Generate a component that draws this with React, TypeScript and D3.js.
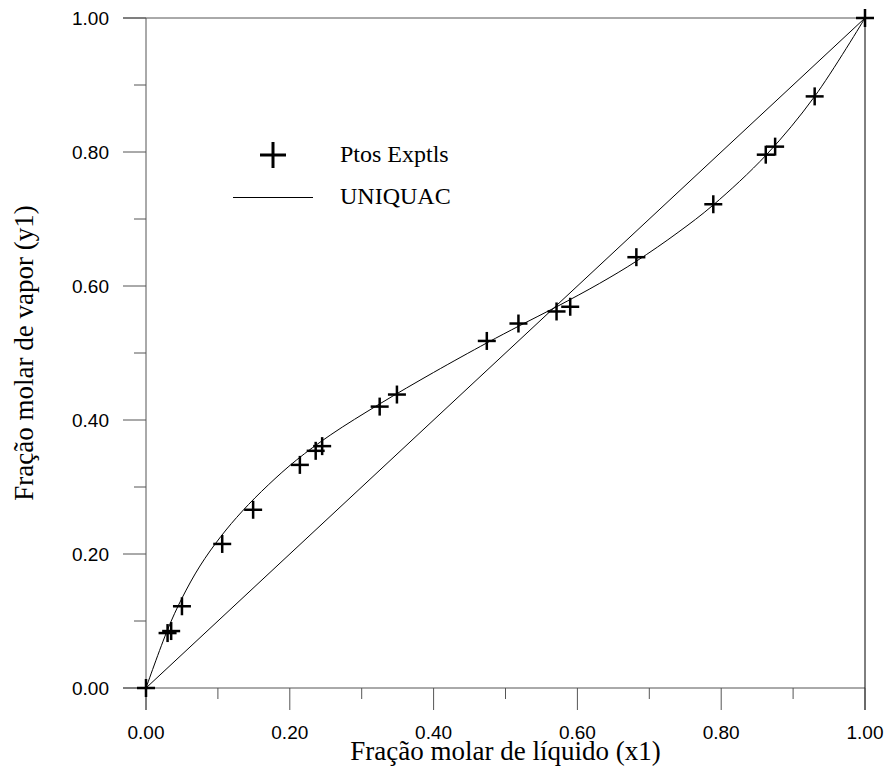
import React from 'react';
import * as d3 from 'd3';

// experimental points (x1, y1)
const expX = [0, 0.030, 0.035, 0.050, 0.106, 0.149, 0.214, 0.236, 0.245, 0.325, 0.349, 0.474, 0.518, 0.571, 0.590, 0.682, 0.789, 0.862, 0.875, 0.930, 1.0];
const expY = [0, 0.082, 0.085, 0.122, 0.215, 0.266, 0.333, 0.354, 0.361, 0.420, 0.438, 0.518, 0.544, 0.562, 0.569, 0.643, 0.722, 0.796, 0.808, 0.883, 1.0];

// UNIQUAC curve
const uniX = [0, 0.030, 0.050, 0.075, 0.104, 0.134, 0.170, 0.209, 0.257, 0.325, 0.400, 0.474, 0.520, 0.571, 0.631, 0.682, 0.740, 0.789, 0.863, 0.930, 1.0];
const uniY = [0, 0.087, 0.134, 0.182, 0.226, 0.264, 0.303, 0.340, 0.378, 0.424, 0.471, 0.515, 0.541, 0.569, 0.604, 0.637, 0.680, 0.721, 0.796, 0.883, 1.0];

const diag = [0, 1];

const majorTicks = [0, 0.2, 0.4, 0.6, 0.8, 1.0];
const minorTicks = [0.1, 0.3, 0.5, 0.7, 0.9];

const W = 888, H = 773;
const margin = { left: 146, right: 23, top: 18, bottom: 85 };

export default function App() {
  const x = d3.scaleLinear().domain([0, 1]).range([margin.left, W - margin.right]);
  const y = d3.scaleLinear().domain([0, 1]).range([H - margin.bottom, margin.top]);

  const line = d3.line<[number, number]>()
    .x(d => x(d[0]))
    .y(d => y(d[1]))
    .curve(d3.curveCatmullRom.alpha(0.5));

  const uniq: [number, number][] = uniX.map((v, i) => [v, uniY[i]]);
  const diagLine = d3.line<number>().x(d => x(d)).y(d => y(d))(diag);

  const x0 = x(0), x1 = x(1), y0 = y(0), y1 = y(1);
  const fmt = d3.format('.2f');
  const axisColor = '#555';
  const sans = 'Liberation Sans, Arial, sans-serif';
  const serif = 'Liberation Serif, Times New Roman, serif';

  const plus = (cx: number, cy: number, r: number, sw: number, key: any) => (
    <g key={key} stroke="#000" strokeWidth={sw}>
      <line x1={cx - r} x2={cx + r} y1={cy} y2={cy} />
      <line x1={cx} x2={cx} y1={cy - r} y2={cy + r} />
    </g>
  );

  return (
    <svg width={W} height={H} style={{ position: 'absolute', left: 0, top: 0, background: '#fff' }}>
      {/* frame */}
      <line x1={x0 - 23} x2={x1} y1={y1} y2={y1} stroke={axisColor} />
      <line x1={x0 - 23} x2={x1} y1={y0} y2={y0} stroke={axisColor} />
      <line x1={x0} x2={x0} y1={y1} y2={y0 + 22} stroke={axisColor} />
      <line x1={x1} x2={x1} y1={y1} y2={y0 + 22} stroke="#000" />

      {/* ticks */}
      {majorTicks.map(t => (
        <g key={'mx' + t}>
          <line x1={x(t)} x2={x(t)} y1={y0} y2={y0 + 22} stroke={axisColor} />
          <line x1={x0 - 23} x2={x0} y1={y(t)} y2={y(t)} stroke={axisColor} />
          <text x={x(t)} y={y0 + 51} textAnchor="middle" fontFamily={sans} fontSize={19}>{fmt(t)}</text>
          <text x={x0 - 37} y={y(t)} dy="0.35em" textAnchor="end" fontFamily={sans} fontSize={19}>{fmt(t)}</text>
        </g>
      ))}
      {minorTicks.map(t => (
        <g key={'mn' + t}>
          <line x1={x(t)} x2={x(t)} y1={y0} y2={y0 + 11} stroke={axisColor} />
          <line x1={x0 - 12} x2={x0} y1={y(t)} y2={y(t)} stroke={axisColor} />
        </g>
      ))}

      {/* lines */}
      <path d={diagLine || ''} fill="none" stroke="#000" strokeWidth={1} />
      <path d={line(uniq) || ''} fill="none" stroke="#000" strokeWidth={1} />

      {/* points */}
      {expX.map((v, i) => plus(x(v), y(expY[i]), 9, 2.5, i))}

      {/* legend */}
      {plus(273, 155, 13, 3, 'leg')}
      <text x={340} y={162} fontFamily={serif} fontSize={24}>Ptos Exptls</text>
      <line x1={233} x2={313} y1={197.5} y2={197.5} stroke="#000" />
      <text x={340} y={204} fontFamily={serif} fontSize={24}>UNIQUAC</text>

      {/* axis titles */}
      <text x={(x0 + x1) / 2} y={760} textAnchor="middle" fontFamily={serif} fontSize={27}>Fração molar de líquido (x1)</text>
      <text transform={`translate(33,${(y0 + y1) / 2}) rotate(-90)`} textAnchor="middle" fontFamily={serif} fontSize={27}>Fração molar de vapor (y1)</text>
    </svg>
  );
}
